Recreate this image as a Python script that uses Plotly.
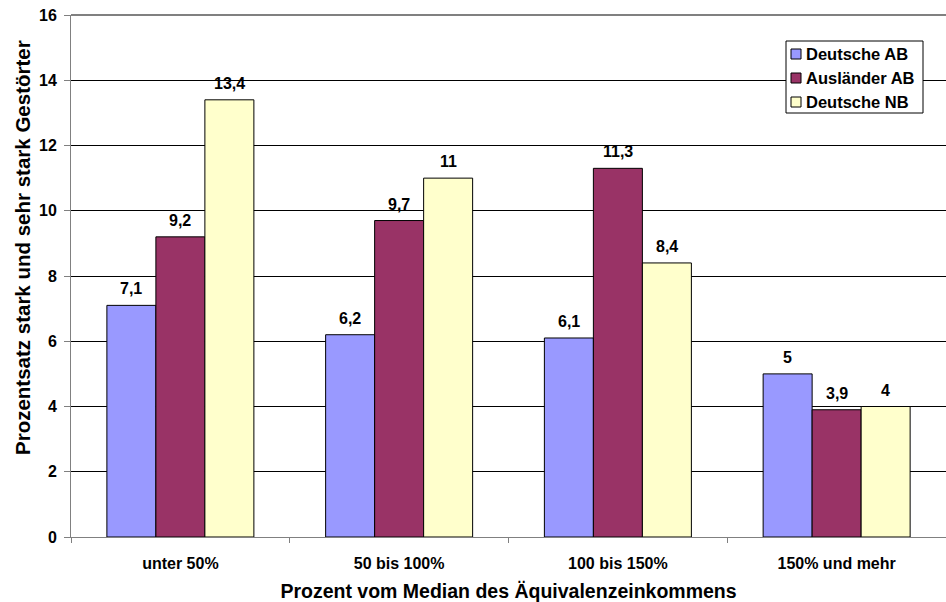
import plotly.graph_objects as go

categories = ["unter 50%", "50 bis 100%", "100 bis 150%", "150% und mehr"]
deutsche_ab = [7.1, 6.2, 6.1, 5.0]
auslaender_ab = [9.2, 9.7, 11.3, 3.9]
deutsche_nb = [13.4, 11.0, 8.4, 4.0]

series = [
    ("Deutsche AB", deutsche_ab, "#9999FF"),
    ("Ausländer AB", auslaender_ab, "#993366"),
    ("Deutsche NB", deutsche_nb, "#FFFFCC"),
]

FONT = "Liberation Sans, Arial, sans-serif"
W, H = 946, 602
ML, MR, MT, MB = 71, 0, 15, 65


def fmt(v):
    return f"{v:g}".replace(".", ",")


def px_x(x):
    return (x - ML) / (W - ML - MR)


def px_y(y):
    return (H - MB - y) / (H - MT - MB)


fig = go.Figure()
for name, vals, color in series:
    fig.add_trace(go.Bar(
        name=name,
        x=categories,
        y=vals,
        marker=dict(color=color, line=dict(color="black", width=1)),
        showlegend=False,
    ))

# value labels above bars
offsets = [-1, 0, 1]
for (name, vals, color), off in zip(series, offsets):
    for i, v in enumerate(vals):
        fig.add_annotation(
            x=i + off * 0.224, y=v, xref="x", yref="y",
            text=f"<b>{fmt(v)}</b>", showarrow=False,
            yanchor="bottom", yshift=6,
            font=dict(family=FONT, size=16, color="black"),
        )

# legend box
shapes = [dict(type="rect", xref="paper", yref="paper",
               x0=px_x(786), x1=px_x(923), y0=px_y(113), y1=px_y(41),
               fillcolor="white", line=dict(color="black", width=1), layer="above")]
for k, (name, vals, color) in enumerate(series):
    cy = 54 + 24 * k
    shapes.append(dict(type="rect", xref="paper", yref="paper",
                       x0=px_x(791), x1=px_x(801), y0=px_y(cy + 5), y1=px_y(cy - 5),
                       fillcolor=color, line=dict(color="black", width=1), layer="above"))
    fig.add_annotation(x=px_x(804), y=px_y(cy), xref="paper", yref="paper",
                       xanchor="left", yanchor="middle", showarrow=False,
                       text=f"<b>{name}</b>",
                       font=dict(family=FONT, size=16.5, color="black"))

# vertical axis title
fig.add_annotation(x=px_x(22), y=px_y(248), xref="paper", yref="paper",
                   xanchor="center", yanchor="middle", showarrow=False,
                   textangle=-90,
                   text="<b>Prozentsatz stark und sehr stark Gestörter</b>",
                   font=dict(family=FONT, size=20.5, color="black"))

# grey frame line along the top of the plot area
shapes.append(dict(type="line", xref="paper", yref="paper", x0=0, x1=1, y0=1, y1=1,
                   line=dict(color="#808080", width=2)))

fig.update_layout(
    width=W, height=H,
    margin=dict(l=ML, r=MR, t=MT, b=MB),
    paper_bgcolor="white", plot_bgcolor="white",
    barmode="group", bargap=0.328, bargroupgap=0,
    font=dict(family=FONT, size=16, color="black"),
    showlegend=False,
    shapes=shapes,
    xaxis=dict(
        type="category", tickson="boundaries",
        ticks="outside", ticklen=5, tickcolor="#808080",
        showline=True, linecolor="#808080", linewidth=1,
        showgrid=False, ticklabelstandoff=12,
        tickfont=dict(family=FONT, size=16, color="black", weight="bold"),
        title=dict(text="Prozent vom Median des Äquivalenzeinkommens",
                   font=dict(family=FONT, size=19.5, color="black", weight="bold"),
                   standoff=14),
    ),
    yaxis=dict(
        range=[0, 16], dtick=2,
        ticks="outside", ticklen=6, tickcolor="#808080",
        showline=True, linecolor="#808080", linewidth=1,
        showgrid=True, gridcolor="black", gridwidth=1,
        zeroline=False, ticklabelstandoff=4,
        tickfont=dict(family=FONT, size=16, color="black", weight="bold"),
    ),
)

fig.write_html("out.html")
